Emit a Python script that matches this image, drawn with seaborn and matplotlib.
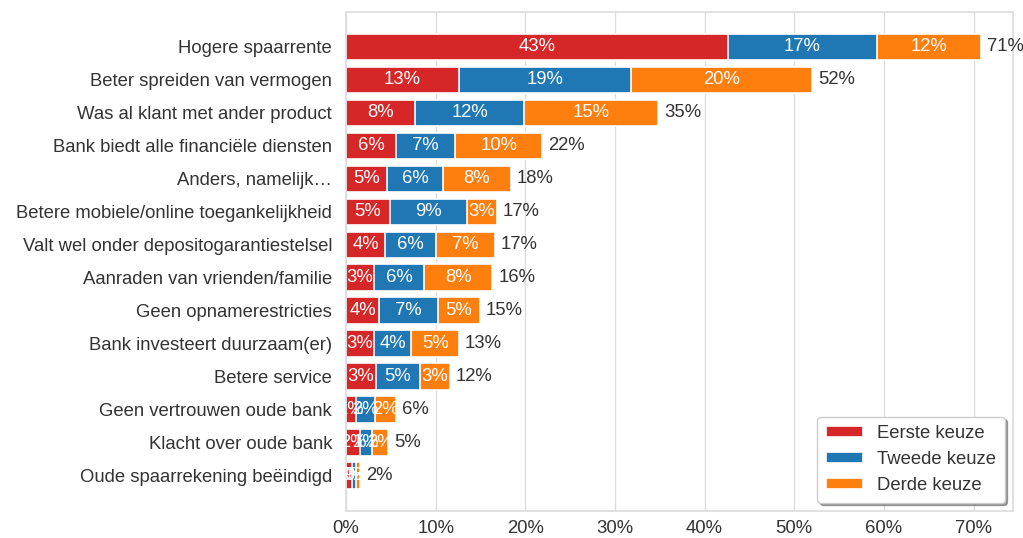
import matplotlib
matplotlib.use("Agg")
import matplotlib.pyplot as plt
import seaborn as sns
import pandas as pd
import numpy as np
from matplotlib.ticker import FuncFormatter

categories = [
    "Hogere spaarrente",
    "Beter spreiden van vermogen",
    "Was al klant met ander product",
    "Bank biedt alle financiële diensten",
    "Anders, namelijk…",
    "Betere mobiele/online toegankelijkheid",
    "Valt wel onder depositogarantiestelsel",
    "Aanraden van vrienden/familie",
    "Geen opnamerestricties",
    "Bank investeert duurzaam(er)",
    "Betere service",
    "Geen vertrouwen oude bank",
    "Klacht over oude bank",
    "Oude spaarrekening beëindigd",
]
eerste = [42.6, 12.6, 7.7, 5.6, 4.6, 4.9, 4.4, 3.1, 3.7, 3.1, 3.3, 1.1, 1.6, 0.7]
tweede = [16.6, 19.2, 12.2, 6.6, 6.2, 8.6, 5.6, 5.6, 6.6, 4.2, 4.9, 2.1, 1.3, 0.4]
derde = [11.6, 20.2, 14.9, 9.7, 7.6, 3.3, 6.6, 7.6, 4.6, 5.3, 3.4, 2.4, 1.8, 0.5]
series_names = ["Eerste keuze", "Tweede keuze", "Derde keuze"]
colors = ["#d62728", "#1f77b4", "#ff7f0e"]

sns.set_theme(style="whitegrid")
plt.rcParams["font.family"] = ["Liberation Sans", "DejaVu Sans"]

df = pd.DataFrame({"cat": categories, "e": eerste, "t": tweede, "d": derde})
df["c1"] = df["e"]
df["c2"] = df["e"] + df["t"]
df["c3"] = df["c2"] + df["d"]

fig = plt.figure(figsize=(10.23, 5.38), dpi=100)
ax = fig.add_axes([346 / 1023, 1 - 511 / 538, 667 / 1023, 499 / 538])

# draw cumulative bars from largest to smallest so they stack visually
for col, color, name in zip(["c3", "c2", "c1"], colors[::-1], series_names[::-1]):
    sns.barplot(data=df, y="cat", x=col, orient="h", color=color, ax=ax,
                width=0.8, edgecolor="white", linewidth=1.2, saturation=1,
                label=name, errorbar=None)

fs = 13.3
ax.set_xlim(0, 74.4)
ax.set_ylim(len(categories) - 1 + 1.08, -1.06)
ax.set_xticks(np.arange(0, 71, 10))
ax.xaxis.set_major_formatter(FuncFormatter(lambda v, p: f"{v:.0f}%"))
ax.set_xlabel("")
ax.set_ylabel("")
ax.grid(axis="y", visible=False)
ax.grid(axis="x", color="#dddddd", linewidth=1)
for s in ax.spines.values():
    s.set_color("#dddddd")
ax.tick_params(axis="both", labelsize=fs, colors="#333333", length=0)
ax.tick_params(axis="y", pad=10)
ax.tick_params(axis="x", pad=6.5)

for i in range(len(categories)):
    starts = [0, df["c1"][i], df["c2"][i]]
    vals = [df["e"][i], df["t"][i], df["d"][i]]
    for s0, v in zip(starts, vals):
        ax.text(s0 + v / 2, i, f"{v:.0f}%", ha="center", va="center",
                color="white", fontsize=fs)
    ax.text(df["c3"][i] + 0.67, i, f"{df['c3'][i]:.0f}%", ha="left", va="center",
            color="#333333", fontsize=fs)

handles, labels = ax.get_legend_handles_labels()
order = [labels.index(n) for n in series_names]
leg = ax.legend([handles[k] for k in order], [labels[k] for k in order],
                loc="lower right", shadow=True, frameon=True, fontsize=fs,
                handlelength=2.0, handleheight=0.55, borderpad=0.45,
                labelspacing=0.5, handletextpad=0.8, borderaxespad=0.45)
leg.get_frame().set_edgecolor("#cccccc")
for t in leg.get_texts():
    t.set_color("#333333")

fig.savefig("out.png", dpi=100)
